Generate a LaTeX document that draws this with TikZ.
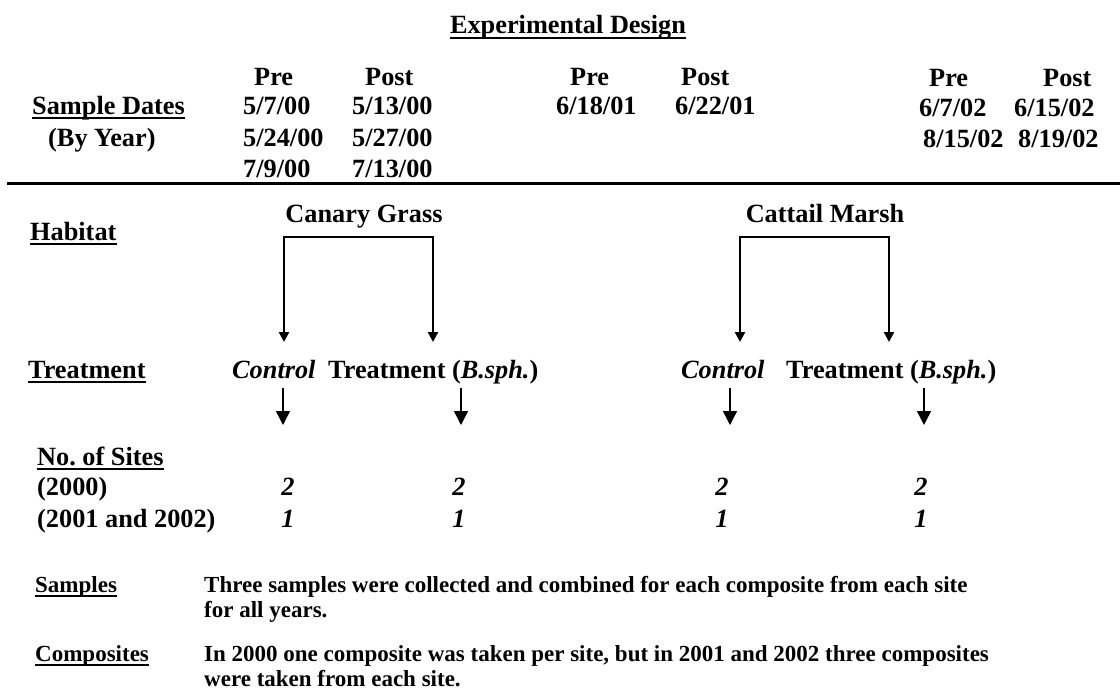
\documentclass[tikz,border=0pt]{standalone}
\usepackage{fontspec}
\setmainfont{Liberation Serif}
\usetikzlibrary{arrows.meta}
\frenchspacing
\begin{document}
\begin{tikzpicture}[x=1pt,y=-1pt,
  t/.style={anchor=base west, inner sep=0pt, font=\fontsize{26.3}{31}\selectfont\bfseries},
  tm/.style={anchor=base, inner sep=0pt, font=\fontsize{26.3}{31}\selectfont\bfseries},
  ts/.style={anchor=base west, inner sep=0pt, font=\fontsize{23}{27}\selectfont\bfseries},
  ul/.style={line width=1.3pt},
  rule/.style={line width=3pt},
  brk/.style={line width=2.6pt, -{Triangle[width=10pt,length=10pt]}},
  sarr/.style={line width=1.4pt, -{Triangle[width=14pt,length=14pt]}}]
\useasboundingbox[fill=white] (0,0) rectangle (1120,696);
\newcommand\ulnode[1]{\draw[ul] ([yshift=-4pt]#1.base west) -- ([yshift=-4pt]#1.base east);}

% title
\node[tm] (title) at (568,34) {Experimental Design};
\ulnode{title}

% sample dates
\node[t] (sd) at (32,114) {Sample Dates};
\ulnode{sd}
\node[t] (by) at (48,146) {(By Year)};

\node[t] (pre1) at (254,85) {Pre};
\node[t] (post1) at (365,85) {Post};
\node[t] (d11) at (243,114) {5/7/00};
\node[t] (d12) at (352,114) {5/13/00};
\node[t] (d21) at (243,146) {5/24/00};
\node[t] (d22) at (352,146) {5/27/00};
\node[t] (d31) at (243,177) {7/9/00};
\node[t] (d32) at (352,177) {7/13/00};

\node[t] (pre2) at (570,85) {Pre};
\node[t] (post2) at (681,85) {Post};
\node[t] (e11) at (556,114) {6/18/01};
\node[t] (e12) at (675,114) {6/22/01};

\node[t] (pre3) at (929,86) {Pre};
\node[t] (post3) at (1043,86) {Post};
\node[t] (f11) at (919,116) {6/7/02};
\node[t] (f12) at (1014,116) {6/15/02};
\node[t] (f21) at (923,147) {8/15/02};
\node[t] (f22) at (1018,147) {8/19/02};

% rule
\coordinate (rl) at (7,183);
\coordinate (rr) at (1120,183);
\draw[rule] (rl) -- (rr);

% habitat
\node[t] (hab) at (30,240) {Habitat};
\ulnode{hab}
\node[tm] (cg) at (364,222) {Canary Grass};
\node[tm] (cm) at (825,222) {Cattail Marsh};

% treatment row
\node[t] (trt) at (28,378) {Treatment};
\ulnode{trt}
\node[t] (c1) at (232,378) {\textit{Control}};
\node[t] (t1) at (328,378) {Treatment (\textit{B.sph.})};
\node[t] (c2) at (681,378) {\textit{Control}};
\node[t] (t2) at (786,378) {Treatment (\textit{B.sph.})};

% brackets
\coordinate (cgtop) at (358,237);
\coordinate (cgl) at (284,342);
\coordinate (cgr) at (433,342);
\draw[brk] (cgtop) -| (cgl);
\draw[brk] (cgtop) -| (cgr);
\coordinate (cmtop) at (814,237);
\coordinate (cml) at (740,342);
\coordinate (cmr) at (889,342);
\draw[brk] (cmtop) -| (cml);
\draw[brk] (cmtop) -| (cmr);

% small arrows
\coordinate (a1s) at (283,388); \coordinate (a1e) at (283,425);
\coordinate (a2s) at (461,388); \coordinate (a2e) at (461,425);
\coordinate (a3s) at (730,388); \coordinate (a3e) at (730,425);
\coordinate (a4s) at (924,388); \coordinate (a4e) at (924,425);
\draw[sarr] (a1s) -- (a1e);
\draw[sarr] (a2s) -- (a2e);
\draw[sarr] (a3s) -- (a3e);
\draw[sarr] (a4s) -- (a4e);

% no of sites
\node[t] (nos) at (37,465) {No. of Sites};
\ulnode{nos}
\node[t] (y0) at (37,495) {(2000)};
\node[t] (y12) at (37,527) {(2001 and 2002)};
\node[tm] (n11) at (288,495) {\textit{2}};
\node[tm] (n12) at (459,495) {\textit{2}};
\node[tm] (n13) at (722,495) {\textit{2}};
\node[tm] (n14) at (921,495) {\textit{2}};
\node[tm] (n21) at (288,527) {\textit{1}};
\node[tm] (n22) at (459,527) {\textit{1}};
\node[tm] (n23) at (722,527) {\textit{1}};
\node[tm] (n24) at (921,527) {\textit{1}};

% samples / composites
\node[ts] (smp) at (35,592) {Samples};
\ulnode{smp}
\node[ts] (smp1) at (204,592) {Three samples were collected and combined for each composite from each site};
\node[ts] (smp2) at (204,617) {for all years.};
\node[ts] (cmp) at (35,661) {Composites};
\ulnode{cmp}
\node[ts] (cmp1) at (204,661) {In 2000 one composite was taken per site, but in 2001 and 2002 three composites};
\node[ts] (cmp2) at (204,686) {were taken from each site.};
\end{tikzpicture}
\end{document}
